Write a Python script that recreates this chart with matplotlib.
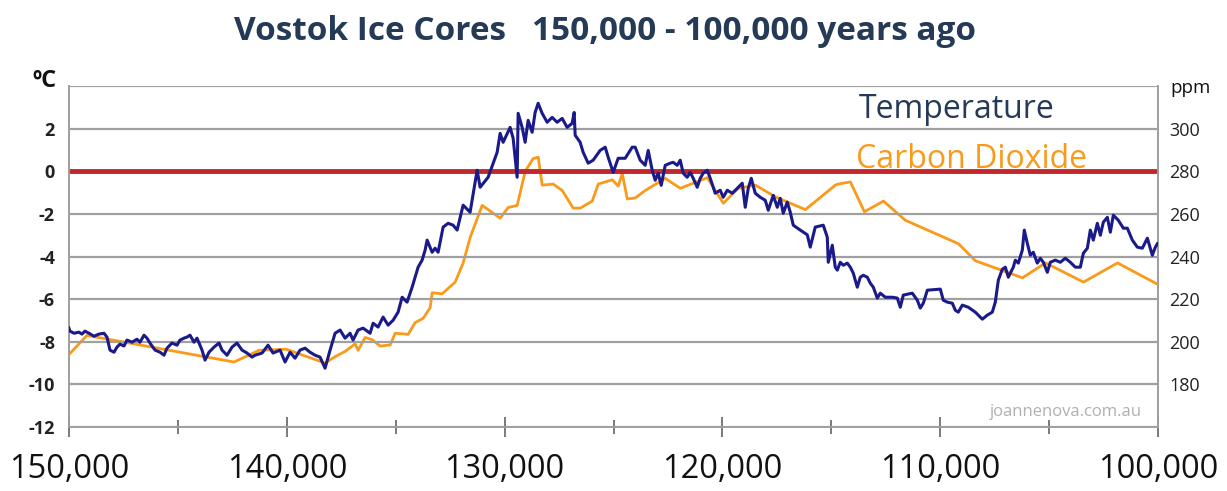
import matplotlib.pyplot as plt
import numpy as np

# Temperature anomaly (deg C) by years ago
temp_years = [
    150000, 149954, 149770, 149541, 149403, 149265, 149081, 148852, 148622, 148392,
    148255, 148117, 147933, 147795, 147658, 147474, 147336, 147106, 146877, 146739,
    146555, 146417, 146280, 146050, 145820, 145637, 145499, 145269, 145040, 144902,
    144718, 144580, 144442, 144259, 144121, 143891, 143753, 143570, 143340, 143110,
    142973, 142743, 142513, 142284, 142054, 141824, 141595, 141457, 141135, 140860,
    140630, 140309, 140079, 139849, 139620, 139390, 139160, 138931, 138701, 138472,
    138242, 138012, 137782, 137553, 137323, 137093, 136956, 136726, 136496, 136175,
    136037, 135808, 135578, 135348, 135119, 134889, 134705, 134476, 134246, 133970,
    133787, 133649, 133557, 133327, 133190, 133052, 132822, 132592, 132363, 132179,
    131904, 131583, 131261, 131123, 130756, 130342, 130205, 130067, 129746, 129608,
    129424, 129378, 129195, 129057, 128919, 128735, 128598, 128460, 128276, 128047,
    127817, 127587, 127358, 127128, 126898, 126806, 126760, 126531, 126393, 126163,
    125934, 125612, 125382, 125244, 125015, 124785, 124463, 124142, 124004, 123775,
    123545, 123407, 123223, 123086, 122948, 122810, 122626, 122397, 122259, 122075,
    121937, 121799, 121616, 121478, 121340, 121156, 121019, 120881, 120697, 120559,
    120330, 120100, 119962, 119778, 119549, 119319, 119089, 118952, 118814, 118676,
    118492, 118263, 118033, 117895, 117666, 117482, 117344, 117207, 117023, 116885,
    116747, 116426, 116104, 115967, 115737, 115370, 115186, 115140, 114956, 114818,
    114726, 114588, 114451, 114267, 114129, 113992, 113808, 113670, 113532, 113349,
    113211, 113073, 112890, 112752, 112522, 112201, 111971, 111833, 111696, 111282,
    111053, 110915, 110777, 110593, 109996, 109859, 109675, 109445, 109308, 109170,
    108986, 108711, 108389, 108068, 107838, 107609, 107471, 107333, 107150, 107012,
    106874, 106645, 106553, 106415, 106231, 106140, 106002, 105864, 105726, 105543,
    105405, 105267, 105083, 104946, 104716, 104487, 104257, 104027, 103798, 103568,
    103430, 103246, 103109, 102971, 102787, 102649, 102512, 102328, 102190, 102053,
    101823, 101593, 101410, 101180, 100951, 100721, 100491, 100262, 100124, 100030,
]
temp_values = [
    -7.36, -7.50, -7.60, -7.55, -7.64, -7.50, -7.60, -7.74, -7.64, -7.60,
    -7.78, -8.39, -8.49, -8.25, -8.11, -8.20, -7.92, -8.02, -7.88, -8.02,
    -7.69, -7.83, -8.06, -8.39, -8.49, -8.63, -8.30, -8.06, -8.16, -7.92,
    -7.83, -7.78, -7.69, -8.02, -7.83, -8.39, -8.86, -8.49, -8.25, -8.06,
    -8.39, -8.63, -8.25, -8.06, -8.39, -8.53, -8.72, -8.63, -8.53, -8.16,
    -8.53, -8.39, -8.95, -8.49, -8.77, -8.39, -8.30, -8.49, -8.63, -8.72,
    -9.24, -8.39, -7.60, -7.45, -7.83, -7.60, -7.92, -7.45, -7.36, -7.60,
    -7.13, -7.31, -6.84, -7.22, -6.99, -6.61, -5.91, -6.14, -5.44, -4.50,
    -4.17, -3.70, -3.23, -3.80, -3.61, -3.80, -2.62, -2.44, -2.53, -2.76,
    -1.59, -1.92, 0.05, -0.75, -0.28, 0.89, 1.78, 1.36, 2.06, 1.55,
    -0.28, 2.72, 2.06, 1.36, 2.39, 1.83, 2.76, 3.19, 2.72, 2.30,
    2.53, 2.30, 2.48, 2.06, 2.25, 2.76, 1.69, 1.36, 0.89, 0.38,
    0.52, 0.98, 1.13, 0.66, -0.05, 0.61, 0.61, 1.13, 1.13, 0.52,
    0.28, 0.98, 0.05, -0.42, -0.09, -0.66, 0.28, 0.38, 0.42, 0.28,
    0.52, -0.09, -0.28, -0.05, -0.33, -0.75, -0.33, -0.09, 0.05, -0.33,
    -1.03, -0.89, -1.22, -0.89, -1.03, -0.80, -0.56, -1.69, -0.80, -0.33,
    -1.03, -1.22, -1.36, -1.83, -1.13, -1.69, -1.27, -1.97, -1.45, -1.92,
    -2.53, -2.76, -2.98, -3.56, -2.62, -2.53, -3.09, -4.27, -3.47, -4.50,
    -4.64, -4.27, -4.41, -4.31, -4.50, -4.78, -5.44, -4.97, -4.88, -4.97,
    -5.25, -5.44, -5.95, -5.72, -5.91, -5.91, -5.95, -6.38, -5.81, -5.72,
    -6.05, -6.42, -6.19, -5.58, -5.53, -6.05, -6.14, -6.19, -6.52, -6.61,
    -6.28, -6.38, -6.61, -6.94, -6.75, -6.61, -6.14, -5.11, -4.60, -4.50,
    -4.97, -4.50, -4.17, -4.31, -3.70, -2.76, -3.38, -3.94, -3.80, -4.31,
    -4.08, -4.27, -4.74, -4.27, -4.17, -4.27, -4.08, -4.27, -4.50, -4.50,
    -3.85, -3.61, -2.76, -3.23, -2.44, -3.00, -2.39, -2.16, -2.86, -2.06,
    -2.30, -2.67, -2.67, -3.23, -3.56, -3.61, -3.14, -3.94, -3.56, -3.40,
]

# CO2 (ppm) by years ago
co2_years = [
    150000, 149173, 142421, 141272, 140032, 138240, 137781, 137322, 136863, 136725,
    136403, 136082, 135714, 135255, 135025, 134428, 134107, 133739, 133418, 133326,
    132866, 132269, 131902, 131580, 131029, 130202, 129835, 129421, 129054, 128686,
    128456, 128273, 127768, 127354, 126849, 126527, 125976, 125700, 125057, 124781,
    124598, 124368, 124001, 123541, 122623, 121934, 120693, 119958, 119269, 118488,
    117570, 116192, 114814, 114676, 114125, 113482, 112609, 111599, 109165, 108384,
    106225, 105168, 103423, 101861, 100024,
]
co2_values = [
    194, 203, 190.5, 196, 196.5, 190, 193, 195.5, 199, 196,
    202, 201, 198, 198.5, 204, 203.5, 209, 211, 216, 223,
    222.5, 228, 237, 249, 264, 258, 263, 264, 280, 286,
    286.6, 273.5, 274, 271, 262.7, 262.7, 266, 274, 276, 273,
    279, 267, 267.5, 271, 276.7, 272, 277, 265, 272, 273.5,
    268, 262, 273.5, 274, 275, 261, 266, 257, 246, 238,
    230, 237, 228, 237, 227,
]

temp_ticks = [-12, -10, -8, -6, -4, -2, 0, 2]
ppm_ticks = [180, 200, 220, 240, 260, 280, 300]
year_ticks = [150000, 140000, 130000, 120000, 110000, 100000]

fig = plt.figure(figsize=(12.27, 4.91), dpi=100)
ax = fig.add_axes([0.0562, 0.1303, 0.8876, 0.6945])

grid_col = '#a0a0a0'
for t in temp_ticks + [4]:
    if t != 0:
        ax.axhline(t, color=grid_col, lw=1.6, zorder=1)
ax.axhline(0, color='#c1272d', lw=3.5, zorder=2)

ax2 = ax.twinx()
ax2.plot(co2_years, co2_values, color='#fa9a1a', lw=2.0, zorder=3)
ax.plot(temp_years, temp_values, color='#1a1a8a', lw=2.2, zorder=4)
ax.set_zorder(ax2.get_zorder() + 1)
ax.patch.set_visible(False)

ax.set_xlim(150000, 100000)
ax.set_ylim(-12, 4)
ax2.set_ylim(160, 320)

for a in (ax, ax2):
    for s in a.spines.values():
        s.set_color(grid_col)
        s.set_linewidth(1.3)
    a.spines['top'].set_visible(False)

ax.set_yticks(temp_ticks)
ax.set_yticklabels([str(t) for t in temp_ticks], fontsize=13, fontweight='bold',
                   color='#222222', family='Open Sans')
ax.tick_params(axis='y', length=0, pad=10)
ax2.set_yticks(ppm_ticks)
ax2.set_yticklabels([str(p) for p in ppm_ticks], fontsize=13, color='#222222',
                    family='Open Sans')
ax2.tick_params(axis='y', length=0, pad=8)

ax.set_xticks(year_ticks)
ax.set_xticks(np.arange(100000, 150001, 5000), minor=True)
ax.set_xticklabels([f'{y:,}' for y in year_ticks], fontsize=23.5, color='#111111',
                   family='Open Sans')
ax.tick_params(axis='x', which='major', direction='inout', length=14, width=1.3,
               color='#707070', pad=12)
ax.tick_params(axis='x', which='minor', direction='inout', length=10, width=1.3,
               color='#707070')

fig.text(0.493, 0.935, 'Vostok Ice Cores   150,000 - 100,000 years ago', ha='center',
         va='center', fontsize=24, fontweight='bold', color='#253a56', family='Open Sans')
fig.text(0.036, 0.835, 'ºC', ha='center', va='center', fontsize=17, fontweight='bold',
         color='#111111', family='Open Sans')
fig.text(0.97, 0.82, 'ppm', ha='center', va='center', fontsize=13.5, color='#111111',
         family='Open Sans')
ax.text(0.815, 0.93, 'Temperature', transform=ax.transAxes, ha='center', va='center',
        fontsize=23, color='#253a56', family='Open Sans')
ax.text(0.829, 0.785, 'Carbon Dioxide', transform=ax.transAxes, ha='center', va='center',
        fontsize=23, color='#fa9a1a', family='Open Sans')
ax.text(0.985, 0.045, 'joannenova.com.au', transform=ax.transAxes, ha='right',
        va='center', fontsize=12, color='#b0b0b0', family='Open Sans')

fig.savefig('out.png', dpi=100)
